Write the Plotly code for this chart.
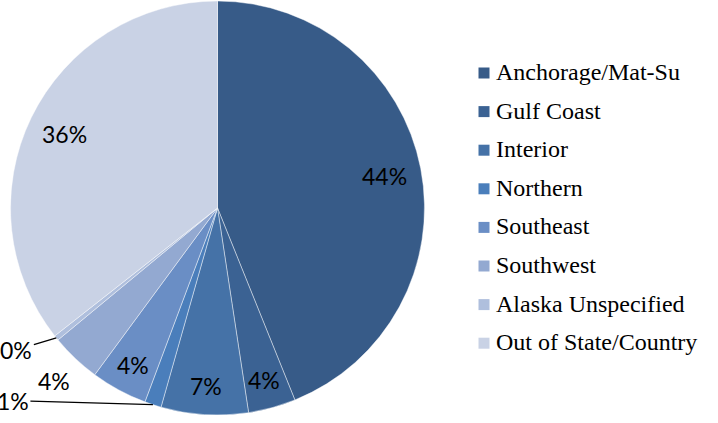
import math
import plotly.graph_objects as go

# ---- data ----
regions = ["Anchorage/Mat-Su", "Gulf Coast", "Interior", "Northern",
           "Southeast", "Southwest", "Alaska Unspecified", "Out of State/Country"]
shares = [43.9, 3.7, 6.8, 1.3, 4.4, 3.9, 0.4, 35.6]

# ---- style ----
colors = ["#375B88", "#3B6293", "#4572A7", "#4A7EBB",
          "#6A8EC5", "#93A9D1", "#AFBFDD", "#C9D2E5"]
# radial placement of each percentage label, as a fraction of the radius
# (None = label drawn away from the pie with a leader line)
label_radius = [0.82, 0.86, 0.86, None, 0.86, 1.15, None, 0.82]
leader = {"Northern": (-140, -4), "Alaska Unspecified": (-40, 12)}
LABEL_FONT = dict(family="Lato", size=23, color="#000000")
LEGEND_FONT = dict(family="Liberation Serif", size=24, color="#000000")

W, H = 718, 423
pie_left, pie_right, pie_top, pie_bottom = 10, 425, 1, 415

fig = go.Figure()
fig.add_trace(go.Pie(
    labels=regions, values=shares, sort=False, direction="clockwise", rotation=0,
    marker=dict(colors=colors, line=dict(color="rgba(255,255,255,0.55)", width=0.8)),
    textinfo="none",
    domain=dict(x=[pie_left / W, pie_right / W], y=[1 - pie_bottom / H, 1 - pie_top / H]),
    showlegend=False, hoverinfo="label+percent",
))

# percentage labels placed at each slice's mid-angle
cx = (pie_left + pie_right) / 2
cy = (pie_top + pie_bottom) / 2
R = min(pie_right - pie_left, pie_bottom - pie_top) / 2
total = sum(shares)
cum = 0.0
for name, v, rf in zip(regions, shares, label_radius):
    mid = (cum + v / 2) / total * 2 * math.pi
    cum += v
    pct = f"{round(v / total * 100)}%"
    if rf is not None:
        px = cx + rf * R * math.sin(mid)
        py = cy - rf * R * math.cos(mid)
        fig.add_annotation(x=px / W, y=1 - py / H, xref="paper", yref="paper",
                           text=pct, showarrow=False, font=LABEL_FONT,
                           xanchor="center", yanchor="middle")
    else:
        px = cx + R * math.sin(mid)
        py = cy - R * math.cos(mid)
        ax, ay = leader[name]
        fig.add_annotation(x=px / W, y=1 - py / H, xref="paper", yref="paper",
                           text=pct, showarrow=True, arrowhead=0,
                           arrowwidth=1.3, arrowcolor="#000000", ax=ax, ay=ay,
                           font=LABEL_FONT)

# legend
leg_y0, leg_step = 73, 38.6
for i, (name, col) in enumerate(zip(regions, colors)):
    yc = leg_y0 + i * leg_step
    fig.add_shape(type="rect", xref="paper", yref="paper",
                  x0=478.5 / W, x1=489.5 / W,
                  y0=1 - (yc + 5.5) / H, y1=1 - (yc - 5.5) / H,
                  fillcolor=col, line=dict(width=0))
    fig.add_annotation(x=494 / W, y=1 - (yc - 1) / H, xref="paper", yref="paper",
                       xanchor="left", yanchor="middle", showarrow=False,
                       text=name, font=LEGEND_FONT)

fig.update_layout(
    width=W, height=H, margin=dict(l=0, r=0, t=0, b=0),
    paper_bgcolor="#FFFFFF", plot_bgcolor="#FFFFFF",
)
fig.write_html("out.html", config={"displayModeBar": False},
               post_script="document.body.style.margin='0';")
